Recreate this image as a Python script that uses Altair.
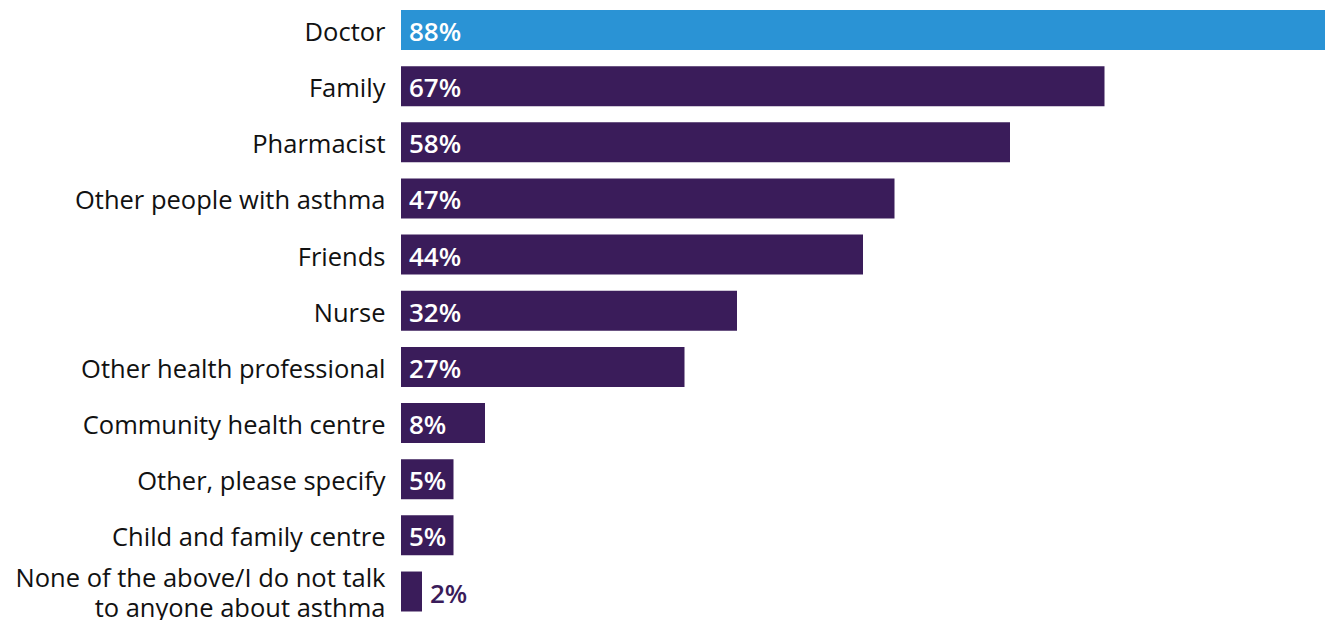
import altair as alt
import pandas as pd

categories = [
    "Doctor", "Family", "Pharmacist", "Other people with asthma", "Friends",
    "Nurse", "Other health professional", "Community health centre",
    "Other, please specify", "Child and family centre",
    "None of the above/I do not talk|to anyone about asthma",
]
values = [88, 67, 58, 47, 44, 32, 27, 8, 5, 5, 2]
highlight = [True] + [False] * 10

df = pd.DataFrame({"cat": categories, "value": values, "hl": highlight})
df["label"] = df["value"].astype(str) + "%"
df["inside"] = df["value"] >= 5

BLUE = "#2A93D5"
PURPLE = "#3A1C5A"
FONT = "Open Sans"

y = alt.Y(
    "cat:N", sort=categories, title=None,
    scale=alt.Scale(paddingInner=0.288, paddingOuter=0),
    axis=alt.Axis(
        domain=False, ticks=False, labelFont=FONT, labelFontSize=25.5,
        labelColor="#111111", labelPadding=16, labelLimit=500,
        labelExpr="split(datum.label, '|')", labelLineHeight=30,
        labelOffset={"condition": {"test": "indexof(datum.label, '|') >= 0", "value": -13},
                     "value": 3},
    ),
)
x = alt.X("value:Q", scale=alt.Scale(domain=[0, 88], nice=False, zero=True),
          axis=None, title=None)

bars = alt.Chart(df).mark_bar().encode(
    x=x, y=y,
    color=alt.Color("hl:N", scale=alt.Scale(domain=[True, False], range=[BLUE, PURPLE]),
                    legend=None),
)

inside = alt.Chart(df).transform_filter("datum.inside").mark_text(
    align="left", baseline="middle", dx=8, dy=3, font=FONT, fontSize=26,
    fontWeight=600, color="white",
).encode(x=alt.datum(0), y=alt.Y("cat:N", sort=categories), text="label:N")

outside = alt.Chart(df).transform_filter("!datum.inside").mark_text(
    align="left", baseline="middle", dx=8, dy=3, font=FONT, fontSize=26,
    fontWeight=600, color=PURPLE,
).encode(x="value:Q", y=alt.Y("cat:N", sort=categories), text="label:N")

chart = alt.layer(bars, inside, outside).properties(
    width=924, height=601.5,
    autosize=alt.AutoSizeParams(type="none"),
    padding={"left": 401, "top": 10, "right": 0, "bottom": 8.5},
).configure_view(stroke=None)

chart.save("out.html", embed_options={"renderer": "svg", "actions": False})
